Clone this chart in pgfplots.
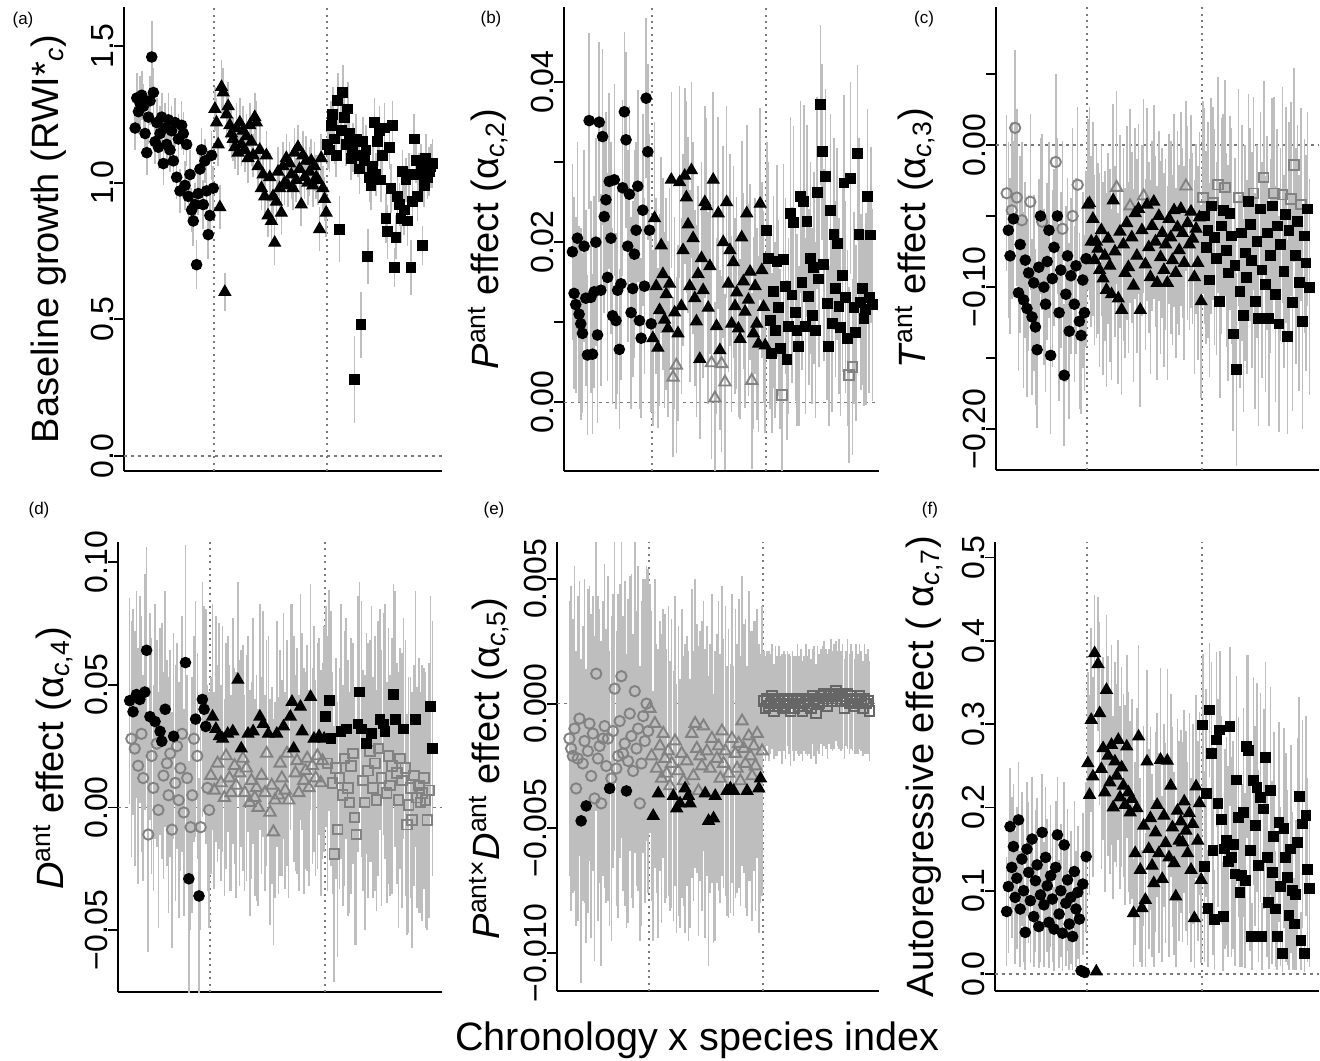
\documentclass[border=0pt]{standalone}
\usepackage{fontspec}
\setmainfont{Liberation Sans}
\usepackage{pgfplots}
\usepackage{pgfplotstable}
\pgfplotsset{compat=1.18}
\definecolor{ebar}{HTML}{BEBEBE}
\definecolor{mgray}{HTML}{828282}
\definecolor{dgray}{HTML}{666666}
\definecolor{refl}{HTML}{7A7A7A}
\newcommand{\ylf}{\fontsize{19}{19}\selectfont}
\newcommand{\plf}{\fontsize{8.5}{9}\selectfont}
\tikzset{hidemk/.style={mark=*, mark size=0pt, opacity=0}}
\pgfplotsset{
 panel/.style={scale only axis, axis lines*=left, axis line style={line width=0.9pt,-},
  xtick=\empty, ytick pos=left, tick align=outside, major tick length=5pt,
  major tick style={line width=0.9pt, black}, scaled y ticks=false,
  yticklabel style={font=\fontsize{16}{16}\selectfont, rotate=90, anchor=south, inner sep=0pt},
  clip=true},
 vref/.style={refl, line width=0.6pt, dash pattern=on 1pt off 2.2pt},
 href/.style={refl, line width=0.6pt, dash pattern=on 1.5pt off 2pt},
 ebars/.style={draw=none, mark=none, error bars/.cd, y dir=both, y explicit, error mark=none,
  error bar style={draw=ebar, solid, line width=0.8pt}},
 clsG/.style={scatter, only marks, scatter src=explicit symbolic, mark options={line width=0.95pt},
  scatter/classes={
   c={hidemk}, t={hidemk}, s={hidemk},
   o={mark=o, draw=mgray, mark size=2.6pt, line width=0.95pt},
   v={mark=triangle, draw=mgray, mark size=3.3pt, line width=0.95pt},
   q={mark=square, draw=mgray, mark size=2.4pt, line width=0.95pt},
   d={mark=square, draw=dgray, mark size=2.4pt, line width=0.95pt}}},
 clsB/.style={scatter, only marks, scatter src=explicit symbolic, mark options={line width=0.6pt},
  scatter/classes={
   c={mark=*, draw=black, fill=black, mark size=2.6pt},
   t={mark=triangle*, draw=black, fill=black, mark size=3.3pt},
   s={mark=square*, draw=black, fill=black, mark size=2.4pt},
   o={hidemk}, v={hidemk}, q={hidemk}, d={hidemk}}}
}
\newcommand{\allmarks}[1]{%
 \addplot[ebars] table[x expr=\coordindex+1, y=y, y error=e]{#1};
 \addplot[clsG] table[x expr=\coordindex+1, y=y, meta=f]{#1};
 \addplot[clsB] table[x expr=\coordindex+1, y=y, meta=f]{#1};
}
% ---------------- data -----------------
\pgfplotstableread[row sep=\\]{
y e f\\
1.20 0.08 c\\ 1.31 0.09 c\\ 1.26 0.08 c\\ 1.29 0.10 c\\ 1.32 0.09 c\\ 1.28 0.08 c\\ 1.18 0.09 c\\ 1.11 0.08 c\\
1.24 0.10 c\\ 1.30 0.09 c\\ 1.46 0.13 c\\ 1.33 0.09 c\\ 1.15 0.08 c\\ 1.22 0.09 c\\ 1.13 0.08 c\\ 1.18 0.10 c\\
1.24 0.09 c\\ 1.07 0.08 c\\ 1.20 0.09 c\\ 1.14 0.08 c\\ 1.23 0.10 c\\ 1.12 0.08 c\\ 1.19 0.09 c\\ 1.08 0.08 c\\
1.22 0.09 c\\ 1.02 0.08 c\\ 1.16 0.09 c\\ 0.97 0.08 c\\ 1.21 0.09 c\\ 1.18 0.08 c\\ 0.99 0.09 c\\ 1.14 0.08 c\\
0.95 0.08 c\\ 1.03 0.09 c\\ 0.90 0.08 c\\ 0.86 0.09 c\\ 0.92 0.08 c\\ 0.70 0.09 c\\ 0.96 0.08 c\\ 1.05 0.09 c\\
1.12 0.08 c\\ 0.92 0.09 c\\ 1.08 0.08 c\\ 0.97 0.09 c\\ 0.81 0.09 c\\ 0.88 0.08 c\\ 1.10 0.09 c\\ 0.98 0.08 c\\
1.27 0.08 t\\ 1.22 0.09 t\\ 1.14 0.08 t\\ 0.91 0.08 t\\ 1.35 0.10 t\\ 1.33 0.09 t\\ 0.60 0.07 t\\ 1.25 0.09 t\\
1.28 0.09 t\\ 1.21 0.08 t\\ 1.18 0.09 t\\ 1.16 0.08 t\\ 1.13 0.08 t\\ 1.20 0.09 t\\ 1.11 0.08 t\\ 1.22 0.09 t\\
1.14 0.08 t\\ 1.19 0.09 t\\ 1.12 0.08 t\\ 1.17 0.08 t\\ 1.09 0.09 t\\ 1.21 0.08 t\\ 1.15 0.09 t\\ 1.10 0.08 t\\
1.24 0.09 t\\ 1.22 0.08 t\\ 1.06 0.08 t\\ 1.12 0.09 t\\ 0.98 0.08 t\\ 1.03 0.09 t\\ 0.95 0.08 t\\ 1.10 0.09 t\\
0.88 0.08 t\\ 1.02 0.09 t\\ 0.86 0.08 t\\ 0.95 0.09 t\\ 0.78 0.08 t\\ 0.93 0.08 t\\ 1.04 0.09 t\\ 0.98 0.08 t\\
0.89 0.08 t\\ 1.06 0.09 t\\ 1.00 0.08 t\\ 1.09 0.09 t\\ 0.99 0.08 t\\ 1.07 0.08 t\\ 1.03 0.09 t\\ 0.98 0.08 t\\
1.11 0.09 t\\ 1.01 0.08 t\\ 1.13 0.08 t\\ 1.05 0.09 t\\ 0.92 0.08 t\\ 1.10 0.09 t\\ 1.02 0.08 t\\ 1.08 0.09 t\\
1.00 0.08 t\\ 1.04 0.09 t\\ 1.08 0.08 t\\ 0.99 0.08 t\\ 1.06 0.09 t\\ 1.02 0.08 t\\ 1.01 0.09 t\\ 0.83 0.08 t\\
1.09 0.09 t\\ 0.98 0.08 t\\ 0.94 0.08 t\\ 0.89 0.09 t\\
1.14 0.09 s\\ 1.12 0.08 s\\ 1.21 0.09 s\\ 1.25 0.10 s\\ 1.16 0.09 s\\ 1.10 0.08 s\\ 1.30 0.10 s\\ 0.83 0.12 s\\
1.19 0.09 s\\ 1.33 0.10 s\\ 1.24 0.09 s\\ 1.14 0.08 s\\ 1.27 0.10 s\\ 1.18 0.09 s\\ 1.09 0.08 s\\ 1.13 0.09 s\\
0.28 0.16 s\\ 1.16 0.09 s\\ 1.10 0.08 s\\ 1.05 0.09 s\\ 0.48 0.12 s\\ 1.15 0.09 s\\ 1.08 0.08 s\\ 1.12 0.09 s\\
0.73 0.10 s\\ 1.02 0.09 s\\ 0.99 0.09 s\\ 1.06 0.08 s\\ 1.22 0.09 s\\ 1.03 0.08 s\\ 1.15 0.09 s\\ 1.19 0.09 s\\
1.01 0.08 s\\ 1.10 0.09 s\\ 1.20 0.09 s\\ 0.87 0.09 s\\ 0.82 0.10 s\\ 1.13 0.08 s\\ 0.98 0.09 s\\ 1.21 0.09 s\\
0.69 0.07 s\\ 0.80 0.08 s\\ 0.95 0.09 s\\ 0.92 0.08 s\\ 0.87 0.09 s\\ 1.04 0.08 s\\ 0.90 0.09 s\\ 1.01 0.08 s\\
0.86 0.09 s\\ 1.03 0.08 s\\ 0.69 0.10 s\\ 0.93 0.09 s\\ 1.16 0.09 s\\ 1.08 0.08 s\\ 0.95 0.09 s\\ 1.03 0.08 s\\
1.05 0.09 s\\ 0.77 0.07 s\\ 0.99 0.08 s\\ 1.09 0.09 s\\ 1.02 0.08 s\\ 1.04 0.09 s\\ 1.06 0.08 s\\ 1.07 0.09 s\\
}\TabA
\pgfplotstableread[row sep=\\]{
y e f\\
0.0188 0.011 c\\ 0.0136 0.012 c\\ 0.0122 0.011 c\\ 0.0205 0.012 c\\ 0.0110 0.011 c\\ 0.0098 0.012 c\\ 0.0086 0.010 c\\ 0.0195 0.012 c\\
0.0130 0.011 c\\ 0.0059 0.010 c\\ 0.0352 0.011 c\\ 0.0131 0.012 c\\ 0.0060 0.010 c\\ 0.0138 0.012 c\\ 0.0200 0.013 c\\ 0.0084 0.011 c\\
0.0350 0.010 c\\ 0.0140 0.012 c\\ 0.0332 0.011 c\\ 0.0232 0.012 c\\ 0.0253 0.011 c\\ 0.0156 0.013 c\\ 0.0276 0.011 c\\ 0.0205 0.012 c\\
0.0108 0.011 c\\ 0.0278 0.012 c\\ 0.0102 0.011 c\\ 0.0140 0.013 c\\ 0.0066 0.010 c\\ 0.0148 0.012 c\\ 0.0268 0.011 c\\ 0.0363 0.010 c\\
0.0328 0.011 c\\ 0.0195 0.012 c\\ 0.0260 0.011 c\\ 0.0112 0.012 c\\ 0.0142 0.011 c\\ 0.0185 0.013 c\\ 0.0215 0.011 c\\ 0.0270 0.012 c\\
0.0102 0.011 c\\ 0.0080 0.010 c\\ 0.0240 0.012 c\\ 0.0145 0.011 c\\ 0.0380 0.010 c\\ 0.0313 0.011 c\\ 0.0215 0.012 c\\ 0.0098 0.011 c\\
0.0080 0.011 t\\ 0.0230 0.012 t\\ 0.0145 0.011 t\\ 0.0068 0.010 t\\ 0.0115 0.012 t\\ 0.0196 0.011 t\\ 0.0160 0.012 t\\ 0.0103 0.011 t\\
0.0135 0.012 t\\ 0.0092 0.011 t\\ 0.0148 0.012 t\\ 0.0278 0.011 t\\ 0.0031 0.010 v\\ 0.0112 0.012 t\\ 0.0046 0.011 v\\ 0.0086 0.011 t\\
0.0275 0.012 t\\ 0.0120 0.011 t\\ 0.0190 0.012 t\\ 0.0283 0.011 t\\ 0.0256 0.012 t\\ 0.0222 0.011 t\\ 0.0145 0.012 t\\ 0.0290 0.011 t\\
0.0205 0.012 t\\ 0.0130 0.011 t\\ 0.0101 0.012 t\\ 0.0160 0.011 t\\ 0.0054 0.010 t\\ 0.0180 0.012 t\\ 0.0140 0.011 t\\ 0.0250 0.012 t\\
0.0245 0.011 t\\ 0.0118 0.012 t\\ 0.0170 0.011 t\\ 0.0049 0.012 v\\ 0.0278 0.011 t\\ 0.0005 0.012 v\\ 0.0095 0.011 t\\ 0.0236 0.012 t\\
0.0065 0.010 t\\ 0.0048 0.011 v\\ 0.0200 0.012 t\\ 0.0025 0.011 v\\ 0.0250 0.012 t\\ 0.0148 0.011 t\\ 0.0190 0.012 t\\ 0.0098 0.011 t\\
0.0175 0.012 t\\ 0.0120 0.011 t\\ 0.0137 0.012 t\\ 0.0092 0.011 t\\ 0.0079 0.010 t\\ 0.0206 0.012 t\\ 0.0151 0.011 t\\ 0.0113 0.012 t\\
0.0236 0.011 t\\ 0.0128 0.012 t\\ 0.0163 0.011 t\\ 0.0027 0.011 v\\ 0.0086 0.012 t\\ 0.0145 0.011 t\\ 0.0098 0.012 t\\ 0.0073 0.011 t\\
0.0248 0.012 t\\ 0.0165 0.011 t\\ 0.0119 0.012 t\\ 0.0071 0.011 t\\
0.0215 0.011 s\\ 0.0180 0.012 s\\ 0.0102 0.011 s\\ 0.0061 0.010 s\\ 0.0138 0.012 s\\ 0.0090 0.011 s\\ 0.0176 0.012 s\\ 0.0118 0.011 s\\
0.0067 0.010 s\\ 0.0009 0.011 q\\ 0.0178 0.012 s\\ 0.0145 0.011 s\\ 0.0053 0.010 s\\ 0.0095 0.011 s\\ 0.0236 0.012 s\\ 0.0134 0.011 s\\
0.0225 0.012 s\\ 0.0112 0.011 s\\ 0.0090 0.012 s\\ 0.0070 0.010 s\\ 0.0257 0.012 s\\ 0.0150 0.011 s\\ 0.0251 0.012 s\\ 0.0095 0.011 s\\
0.0226 0.012 s\\ 0.0132 0.011 s\\ 0.0180 0.012 s\\ 0.0108 0.011 s\\ 0.0168 0.012 s\\ 0.0090 0.011 s\\ 0.0262 0.012 s\\ 0.0154 0.011 s\\
0.0372 0.010 s\\ 0.0313 0.011 s\\ 0.0172 0.012 s\\ 0.0282 0.011 s\\ 0.0123 0.012 s\\ 0.0070 0.010 s\\ 0.0240 0.012 s\\ 0.0098 0.011 s\\
0.0210 0.012 s\\ 0.0142 0.011 s\\ 0.0198 0.012 s\\ 0.0120 0.011 s\\ 0.0093 0.011 s\\ 0.0158 0.012 s\\ 0.0274 0.011 s\\ 0.0131 0.012 s\\
0.0080 0.011 s\\ 0.0034 0.011 q\\ 0.0280 0.012 s\\ 0.0044 0.011 q\\ 0.0118 0.012 s\\ 0.0087 0.011 s\\ 0.0311 0.011 s\\ 0.0210 0.012 s\\
0.0125 0.011 s\\ 0.0142 0.012 s\\ 0.0105 0.011 s\\ 0.0116 0.012 s\\ 0.0257 0.011 s\\ 0.0131 0.012 s\\ 0.0209 0.011 s\\ 0.0122 0.012 s\\
}\TabB
\pgfplotstableread[row sep=\\]{
y e f\\
-0.034 0.055 o\\ -0.060 0.062 c\\ -0.078 0.055 c\\ -0.046 0.062 o\\ -0.052 0.055 c\\ 0.012 0.055 o\\ -0.037 0.062 o\\ -0.104 0.055 c\\
-0.070 0.062 c\\ -0.053 0.055 o\\ -0.109 0.062 c\\ -0.081 0.055 c\\ -0.115 0.062 c\\ -0.090 0.055 c\\ -0.040 0.062 o\\ -0.121 0.055 c\\
-0.097 0.062 c\\ -0.128 0.055 c\\ -0.144 0.055 c\\ -0.086 0.062 c\\ -0.050 0.055 c\\ -0.054 0.062 o\\ -0.100 0.055 c\\ -0.112 0.062 c\\
-0.082 0.055 c\\ -0.060 0.062 c\\ -0.148 0.055 c\\ -0.094 0.062 c\\ -0.072 0.055 c\\ -0.012 0.062 o\\ -0.050 0.055 c\\ -0.118 0.062 c\\
-0.088 0.055 c\\ -0.059 0.062 o\\ -0.162 0.050 c\\ -0.105 0.062 c\\ -0.078 0.055 c\\ -0.131 0.062 c\\ -0.092 0.055 c\\ -0.050 0.062 o\\
-0.112 0.055 c\\ -0.085 0.062 c\\ -0.028 0.055 o\\ -0.124 0.062 c\\ -0.134 0.055 c\\ -0.095 0.062 c\\ -0.118 0.055 c\\ -0.080 0.062 c\\
-0.042 0.060 t\\ -0.041 0.068 t\\ -0.068 0.060 t\\ -0.052 0.068 t\\ -0.081 0.060 t\\ -0.068 0.068 t\\ -0.073 0.060 t\\ -0.088 0.068 t\\
-0.060 0.060 t\\ -0.094 0.068 t\\ -0.078 0.060 t\\ -0.102 0.068 t\\ -0.066 0.060 t\\ -0.085 0.068 t\\ -0.105 0.060 t\\ -0.039 0.068 t\\
-0.075 0.060 t\\ -0.030 0.068 v\\ -0.108 0.060 t\\ -0.061 0.068 t\\ -0.116 0.060 t\\ -0.070 0.068 t\\ -0.090 0.060 t\\ -0.055 0.068 t\\
-0.086 0.060 t\\ -0.043 0.068 v\\ -0.065 0.060 t\\ -0.099 0.068 t\\ -0.048 0.060 t\\ -0.078 0.068 t\\ -0.045 0.060 t\\ -0.116 0.068 t\\
-0.060 0.060 t\\ -0.036 0.068 v\\ -0.084 0.060 t\\ -0.042 0.068 t\\ -0.072 0.060 t\\ -0.093 0.068 t\\ -0.057 0.060 t\\ -0.040 0.068 t\\
-0.068 0.060 t\\ -0.097 0.068 t\\ -0.050 0.060 t\\ -0.079 0.068 t\\ -0.062 0.060 t\\ -0.088 0.068 t\\ -0.070 0.060 t\\ -0.097 0.068 t\\
-0.052 0.060 t\\ -0.065 0.068 t\\ -0.081 0.060 t\\ -0.046 0.068 t\\ -0.090 0.060 t\\ -0.058 0.068 t\\ -0.074 0.060 t\\ -0.045 0.068 t\\
-0.062 0.060 t\\ -0.083 0.068 t\\ -0.029 0.060 v\\ -0.055 0.068 t\\ -0.070 0.060 t\\ -0.047 0.068 t\\ -0.066 0.060 t\\ -0.093 0.068 t\\
-0.059 0.060 t\\ -0.083 0.068 t\\ -0.051 0.060 t\\ -0.110 0.068 t\\
-0.037 0.068 q\\ -0.050 0.076 s\\ -0.072 0.068 s\\ -0.060 0.076 s\\ -0.095 0.068 s\\ -0.043 0.076 s\\ -0.041 0.068 q\\ -0.065 0.076 s\\
-0.080 0.068 s\\ -0.028 0.076 q\\ -0.110 0.068 s\\ -0.057 0.076 s\\ -0.046 0.068 s\\ -0.030 0.076 q\\ -0.074 0.068 s\\ -0.090 0.076 s\\
-0.048 0.068 s\\ -0.064 0.076 s\\ -0.133 0.068 s\\ -0.085 0.076 s\\ -0.158 0.068 s\\ -0.037 0.076 q\\ -0.103 0.068 s\\ -0.062 0.076 s\\
-0.120 0.068 s\\ -0.076 0.076 s\\ -0.093 0.068 s\\ -0.040 0.076 s\\ -0.056 0.068 s\\ -0.081 0.076 s\\ -0.034 0.068 q\\ -0.110 0.076 s\\
-0.068 0.068 s\\ -0.122 0.076 s\\ -0.045 0.068 s\\ -0.088 0.076 s\\ -0.023 0.068 q\\ -0.098 0.076 s\\ -0.062 0.068 s\\ -0.122 0.076 s\\
-0.078 0.068 s\\ -0.043 0.076 s\\ -0.034 0.068 q\\ -0.105 0.076 s\\ -0.057 0.068 s\\ -0.126 0.076 s\\ -0.070 0.068 s\\ -0.035 0.076 q\\
-0.089 0.068 s\\ -0.049 0.076 s\\ -0.135 0.068 s\\ -0.060 0.076 s\\ -0.038 0.068 q\\ -0.111 0.076 s\\ -0.014 0.068 q\\ -0.078 0.076 s\\
-0.054 0.068 s\\ -0.097 0.076 s\\ -0.042 0.068 q\\ -0.124 0.076 s\\ -0.064 0.068 s\\ -0.083 0.076 s\\ -0.045 0.068 s\\ -0.100 0.076 s\\
}\TabC
\pgfplotstableread[row sep=\\]{
y e f\\
0.0435 0.042 c\\ 0.028 0.048 o\\ 0.039 0.042 c\\ 0.024 0.048 o\\ 0.046 0.042 c\\ 0.017 0.048 o\\ 0.044 0.042 c\\ 0.030 0.048 o\\
0.012 0.042 o\\ 0.047 0.048 c\\ 0.064 0.042 c\\ -0.011 0.048 o\\ 0.037 0.042 c\\ 0.021 0.048 o\\ 0.008 0.042 o\\ 0.035 0.048 c\\
0.026 0.042 o\\ -0.001 0.048 o\\ 0.031 0.042 c\\ 0.027 0.048 c\\ 0.013 0.042 o\\ 0.040 0.048 c\\ 0.018 0.042 o\\ 0.005 0.048 o\\
0.022 0.042 o\\ -0.009 0.048 o\\ 0.029 0.042 c\\ 0.010 0.048 o\\ 0.025 0.042 o\\ 0.003 0.048 o\\ 0.016 0.042 o\\ 0.030 0.048 o\\
-0.002 0.042 o\\ 0.059 0.048 c\\ 0.012 0.042 o\\ -0.029 0.048 c\\ -0.008 0.042 o\\ 0.005 0.048 o\\ 0.028 0.042 o\\ 0.036 0.048 c\\
0.021 0.042 o\\ -0.036 0.048 c\\ -0.008 0.042 o\\ 0.044 0.048 c\\ 0.040 0.042 c\\ 0.033 0.048 c\\ 0.008 0.042 o\\ -0.001 0.048 o\\
0.013 0.040 v\\ 0.037 0.046 t\\ 0.007 0.040 v\\ 0.032 0.046 t\\ 0.018 0.040 v\\ 0.029 0.046 t\\ 0.010 0.040 v\\ 0.028 0.046 t\\
0.004 0.040 v\\ 0.021 0.046 v\\ 0.030 0.040 t\\ 0.012 0.046 v\\ 0.006 0.040 v\\ 0.031 0.046 t\\ 0.017 0.040 v\\ 0.009 0.046 v\\
0.052 0.040 t\\ 0.014 0.046 v\\ 0.024 0.040 t\\ 0.020 0.046 v\\ 0.006 0.040 v\\ 0.016 0.046 v\\ 0.030 0.040 t\\ 0.002 0.046 v\\
0.011 0.040 v\\ 0.031 0.046 t\\ 0.004 0.040 v\\ 0.008 0.046 v\\ 0.000 0.040 v\\ 0.037 0.046 t\\ 0.013 0.040 v\\ 0.034 0.046 t\\
0.006 0.040 v\\ 0.022 0.046 v\\ 0.030 0.040 t\\ -0.002 0.046 v\\ 0.009 0.040 v\\ -0.010 0.046 v\\ 0.003 0.040 v\\ 0.030 0.046 t\\
0.005 0.040 v\\ 0.018 0.046 v\\ 0.012 0.040 v\\ 0.033 0.046 t\\ 0.007 0.040 v\\ 0.022 0.046 v\\ 0.003 0.040 v\\ 0.037 0.046 t\\
0.043 0.040 t\\ 0.024 0.046 t\\ 0.014 0.040 v\\ 0.019 0.046 v\\ 0.006 0.040 v\\ 0.041 0.046 t\\ 0.031 0.040 t\\ 0.011 0.046 v\\
0.015 0.040 v\\ 0.020 0.046 v\\ 0.008 0.040 v\\ 0.045 0.046 t\\ 0.017 0.040 v\\ 0.028 0.046 t\\ 0.012 0.040 v\\ 0.021 0.046 v\\
0.029 0.040 t\\ 0.010 0.046 v\\ 0.019 0.040 v\\ 0.028 0.046 t\\
0.037 0.045 s\\ 0.018 0.052 q\\ 0.0435 0.045 s\\ 0.028 0.052 s\\ 0.010 0.045 q\\ -0.019 0.052 q\\ 0.016 0.045 q\\ -0.009 0.052 q\\
0.012 0.045 q\\ 0.031 0.052 s\\ 0.005 0.045 q\\ 0.020 0.052 q\\ 0.032 0.045 s\\ 0.008 0.052 q\\ 0.002 0.045 q\\ 0.017 0.052 q\\
0.022 0.045 q\\ -0.004 0.052 q\\ -0.011 0.045 q\\ 0.034 0.052 s\\ 0.047 0.045 s\\ 0.032 0.052 s\\ 0.011 0.045 q\\ 0.002 0.052 q\\
0.026 0.045 s\\ 0.015 0.052 q\\ 0.023 0.045 q\\ 0.030 0.052 s\\ 0.008 0.045 q\\ 0.018 0.052 q\\ 0.003 0.045 q\\ 0.024 0.052 q\\
0.036 0.045 s\\ 0.012 0.052 q\\ 0.034 0.045 s\\ 0.031 0.052 s\\ 0.006 0.045 q\\ 0.021 0.052 q\\ 0.009 0.045 q\\ 0.017 0.052 q\\
0.046 0.045 s\\ 0.036 0.052 s\\ 0.014 0.045 q\\ 0.003 0.052 q\\ 0.020 0.045 q\\ 0.011 0.052 q\\ 0.032 0.045 s\\ 0.016 0.052 q\\
-0.007 0.045 q\\ 0.001 0.052 q\\ 0.008 0.045 q\\ -0.005 0.052 q\\ 0.013 0.045 q\\ 0.036 0.052 s\\ 0.004 0.045 q\\ 0.009 0.052 q\\
0.002 0.045 q\\ 0.006 0.052 q\\ 0.012 0.045 q\\ 0.003 0.052 q\\ -0.005 0.045 q\\ 0.007 0.052 q\\ 0.041 0.045 s\\ 0.024 0.052 s\\
}\TabD
\pgfplotstableread[row sep=\\]{
y e f\\
-0.0014 0.0055 o\\ -0.0018 0.0065 o\\ -0.0021 0.0055 o\\ -0.0010 0.0065 o\\ -0.0034 0.0055 o\\ -0.0022 0.0065 o\\ -0.0006 0.0055 o\\ -0.0047 0.0065 c\\
-0.0024 0.0055 o\\ -0.0015 0.0065 o\\ -0.0041 0.0055 c\\ -0.0019 0.0065 o\\ -0.0008 0.0055 o\\ -0.0029 0.0065 o\\ -0.0012 0.0055 o\\ -0.0038 0.0065 o\\
0.0012 0.0055 o\\ -0.0022 0.0065 o\\ -0.0017 0.0055 o\\ -0.0040 0.0065 o\\ -0.0014 0.0055 o\\ -0.0009 0.0065 o\\ -0.0025 0.0055 o\\ -0.0014 0.0065 o\\
-0.0034 0.0055 c\\ -0.0030 0.0065 o\\ -0.0011 0.0055 o\\ 0.0006 0.0065 o\\ -0.0026 0.0055 o\\ -0.0021 0.0065 o\\ -0.0007 0.0055 o\\ 0.0011 0.0065 o\\
-0.0020 0.0055 o\\ -0.0016 0.0065 o\\ -0.0035 0.0055 c\\ -0.0023 0.0065 o\\ -0.0004 0.0055 o\\ -0.0013 0.0065 o\\ -0.0027 0.0055 o\\ 0.0005 0.0065 o\\
-0.0018 0.0055 o\\ -0.0010 0.0065 o\\ -0.0040 0.0055 o\\ -0.0024 0.0065 o\\ -0.0005 0.0055 o\\ -0.0015 0.0065 o\\ 0.0000 0.0055 o\\ -0.0011 0.0065 o\\
-0.0002 0.0050 v\\ -0.0021 0.0058 v\\ -0.0045 0.0050 t\\ -0.0008 0.0058 v\\ -0.0026 0.0050 v\\ -0.0036 0.0058 t\\ -0.0017 0.0050 v\\ -0.0030 0.0058 v\\
-0.0012 0.0050 v\\ -0.0022 0.0058 v\\ -0.0028 0.0050 v\\ -0.0019 0.0058 v\\ -0.0033 0.0050 v\\ -0.0024 0.0058 v\\ -0.0037 0.0050 t\\ -0.0015 0.0058 v\\
-0.0042 0.0050 t\\ -0.0027 0.0058 v\\ -0.0040 0.0050 t\\ -0.0020 0.0058 v\\ -0.0031 0.0050 v\\ -0.0034 0.0058 t\\ -0.0023 0.0050 v\\ -0.0037 0.0058 t\\
-0.0040 0.0050 t\\ -0.0012 0.0058 v\\ -0.0029 0.0050 v\\ -0.0008 0.0058 v\\ -0.0018 0.0050 v\\ -0.0035 0.0058 v\\ -0.0021 0.0050 v\\ -0.0025 0.0058 v\\
-0.0009 0.0050 v\\ -0.0036 0.0058 t\\ -0.0019 0.0050 v\\ -0.0047 0.0058 t\\ -0.0026 0.0050 v\\ -0.0014 0.0058 v\\ -0.0046 0.0050 t\\ -0.0037 0.0058 t\\
-0.0022 0.0050 v\\ -0.0017 0.0058 v\\ -0.0030 0.0050 v\\ -0.0011 0.0058 v\\ -0.0024 0.0050 v\\ -0.0019 0.0058 v\\ -0.0035 0.0050 t\\ -0.0028 0.0058 v\\
-0.0034 0.0050 t\\ -0.0014 0.0058 v\\ -0.0035 0.0050 t\\ -0.0020 0.0058 v\\ -0.0026 0.0050 v\\ -0.0016 0.0058 v\\ -0.0031 0.0050 v\\ -0.0007 0.0058 v\\
-0.0018 0.0050 v\\ -0.0024 0.0058 v\\ -0.0035 0.0050 t\\ -0.0013 0.0058 v\\ -0.0021 0.0050 v\\ -0.0029 0.0058 v\\ -0.0017 0.0050 v\\ -0.0025 0.0058 v\\
-0.0012 0.0050 v\\ -0.0034 0.0058 t\\ -0.0030 0.0050 t\\ -0.0019 0.0058 v\\
0.0001 0.0020 d\\ -0.0002 0.0021 d\\ 0.0002 0.0019 d\\ -0.0001 0.0022 d\\ 0.0000 0.0020 d\\ 0.0003 0.0021 d\\ -0.0003 0.0019 d\\ 0.0001 0.0022 d\\
-0.0001 0.0020 d\\ 0.0002 0.0021 d\\ 0.0000 0.0019 d\\ -0.0002 0.0022 d\\ 0.0001 0.0020 d\\ -0.0001 0.0021 d\\ 0.0002 0.0019 d\\ 0.0000 0.0020 d\\
-0.0003 0.0022 d\\ 0.0001 0.0020 d\\ -0.0002 0.0021 d\\ 0.0000 0.0019 d\\ 0.0002 0.0022 d\\ -0.0001 0.0020 d\\ 0.0001 0.0021 d\\ -0.0003 0.0020 d\\
0.0000 0.0019 d\\ 0.0002 0.0022 d\\ -0.0001 0.0020 d\\ 0.0001 0.0021 d\\ -0.0002 0.0020 d\\ 0.0003 0.0019 d\\ 0.0001 0.0022 d\\ -0.0004 0.0020 d\\
0.0002 0.0021 d\\ 0.0000 0.0020 d\\ 0.0003 0.0019 d\\ 0.0001 0.0022 d\\ 0.0004 0.0021 d\\ 0.0002 0.0020 d\\ -0.0001 0.0021 d\\ 0.0003 0.0019 d\\
0.0004 0.0022 d\\ 0.0001 0.0020 d\\ 0.0003 0.0021 d\\ 0.0005 0.0020 d\\ 0.0002 0.0019 d\\ 0.0004 0.0022 d\\ 0.0001 0.0020 d\\ 0.0003 0.0021 d\\
-0.0002 0.0020 d\\ 0.0002 0.0019 d\\ 0.0004 0.0022 d\\ 0.0000 0.0020 d\\ 0.0003 0.0021 d\\ 0.0001 0.0020 d\\ -0.0001 0.0019 d\\ 0.0002 0.0022 d\\
0.0000 0.0020 d\\ 0.0003 0.0021 d\\ 0.0001 0.0020 d\\ -0.0002 0.0019 d\\ 0.0002 0.0022 d\\ 0.0000 0.0020 d\\ 0.0001 0.0021 d\\ -0.0003 0.0020 d\\
}\TabE
\pgfplotstableread[row sep=\\]{
y e f\\
0.075 0.065 c\\ 0.105 0.080 c\\ 0.177 0.070 c\\ 0.128 0.085 c\\ 0.153 0.075 c\\ 0.092 0.080 c\\ 0.115 0.085 c\\ 0.185 0.070 c\\
0.078 0.070 c\\ 0.138 0.080 c\\ 0.100 0.085 c\\ 0.050 0.045 c\\ 0.150 0.080 c\\ 0.122 0.085 c\\ 0.088 0.075 c\\ 0.162 0.075 c\\
0.069 0.060 c\\ 0.112 0.085 c\\ 0.131 0.080 c\\ 0.057 0.050 c\\ 0.095 0.080 c\\ 0.170 0.070 c\\ 0.083 0.075 c\\ 0.140 0.085 c\\
0.106 0.080 c\\ 0.062 0.055 c\\ 0.118 0.085 c\\ 0.090 0.075 c\\ 0.054 0.050 c\\ 0.128 0.080 c\\ 0.167 0.070 c\\ 0.072 0.065 c\\
0.100 0.080 c\\ 0.049 0.045 c\\ 0.155 0.075 c\\ 0.085 0.075 c\\ 0.113 0.085 c\\ 0.060 0.055 c\\ 0.092 0.080 c\\ 0.045 0.040 c\\
0.123 0.085 c\\ 0.078 0.070 c\\ 0.098 0.080 c\\ 0.066 0.060 c\\ 0.004 0.003 c\\ 0.108 0.085 c\\ 0.002 0.002 c\\ 0.141 0.090 c\\
0.253 0.110 t\\ 0.215 0.120 t\\ 0.305 0.110 t\\ 0.237 0.120 t\\ 0.385 0.070 t\\ 0.003 0.002 t\\ 0.372 0.080 t\\ 0.313 0.110 t\\
0.246 0.120 t\\ 0.271 0.110 t\\ 0.218 0.120 t\\ 0.341 0.090 t\\ 0.262 0.120 t\\ 0.230 0.110 t\\ 0.275 0.120 t\\ 0.200 0.110 t\\
0.255 0.120 t\\ 0.238 0.110 t\\ 0.281 0.120 t\\ 0.212 0.110 t\\ 0.248 0.120 t\\ 0.226 0.110 t\\ 0.203 0.120 t\\ 0.273 0.110 t\\
0.218 0.120 t\\ 0.194 0.110 t\\ 0.210 0.120 t\\ 0.073 0.065 t\\ 0.145 0.110 t\\ 0.199 0.120 t\\ 0.285 0.110 t\\ 0.125 0.110 t\\
0.079 0.070 t\\ 0.178 0.120 t\\ 0.089 0.080 t\\ 0.255 0.110 t\\ 0.150 0.120 t\\ 0.187 0.110 t\\ 0.130 0.110 t\\ 0.109 0.100 t\\
0.170 0.120 t\\ 0.203 0.110 t\\ 0.145 0.120 t\\ 0.257 0.110 t\\ 0.114 0.100 t\\ 0.190 0.110 t\\ 0.157 0.120 t\\ 0.256 0.110 t\\
0.140 0.120 t\\ 0.226 0.110 t\\ 0.176 0.120 t\\ 0.133 0.110 t\\ 0.093 0.085 t\\ 0.196 0.110 t\\ 0.160 0.120 t\\ 0.183 0.110 t\\
0.158 0.120 t\\ 0.207 0.110 t\\ 0.172 0.120 t\\ 0.145 0.110 t\\ 0.193 0.120 t\\ 0.125 0.110 t\\ 0.180 0.120 t\\ 0.067 0.060 t\\
0.225 0.110 t\\ 0.160 0.120 t\\ 0.205 0.110 t\\ 0.113 0.100 t\\
0.299 0.085 s\\ 0.129 0.115 s\\ 0.217 0.125 s\\ 0.079 0.070 s\\ 0.317 0.080 s\\ 0.265 0.110 s\\ 0.148 0.125 s\\ 0.065 0.060 s\\
0.281 0.105 s\\ 0.205 0.125 s\\ 0.293 0.095 s\\ 0.185 0.125 s\\ 0.069 0.065 s\\ 0.150 0.120 s\\ 0.160 0.125 s\\ 0.135 0.115 s\\
0.297 0.095 s\\ 0.140 0.120 s\\ 0.155 0.125 s\\ 0.120 0.110 s\\ 0.233 0.125 s\\ 0.188 0.120 s\\ 0.098 0.090 s\\ 0.118 0.110 s\\
0.194 0.125 s\\ 0.112 0.105 s\\ 0.273 0.110 s\\ 0.268 0.115 s\\ 0.148 0.120 s\\ 0.045 0.040 s\\ 0.232 0.125 s\\ 0.178 0.120 s\\
0.224 0.125 s\\ 0.130 0.115 s\\ 0.212 0.125 s\\ 0.045 0.040 s\\ 0.198 0.120 s\\ 0.260 0.115 s\\ 0.140 0.120 s\\ 0.086 0.080 s\\
0.220 0.125 s\\ 0.122 0.110 s\\ 0.165 0.125 s\\ 0.078 0.070 s\\ 0.045 0.040 s\\ 0.182 0.120 s\\ 0.105 0.095 s\\ 0.025 0.022 s\\
0.175 0.120 s\\ 0.140 0.125 s\\ 0.116 0.105 s\\ 0.070 0.065 s\\ 0.150 0.125 s\\ 0.100 0.095 s\\ 0.060 0.055 s\\ 0.095 0.090 s\\
0.158 0.125 s\\ 0.213 0.120 s\\ 0.040 0.035 s\\ 0.180 0.125 s\\ 0.025 0.022 s\\ 0.190 0.120 s\\ 0.125 0.110 s\\ 0.103 0.095 s\\
}\TabF
\begin{document}
\begin{tikzpicture}
\useasboundingbox (0,0) rectangle (660pt,530pt);
% (a)
\begin{axis}[panel, at={(62pt,294.5pt)}, width=159pt, height=232pt,
  xmin=-5.7, xmax=185.7, ymin=-0.055, ymax=1.643,
  ytick={0,0.5,1,1.5}, yticklabels={0.0,0.5,1.0,1.5}]
\addplot[vref] coordinates {(48.5,-0.055) (48.5,1.643)};
\addplot[vref] coordinates {(116.5,-0.055) (116.5,1.643)};
\addplot[href] coordinates {(-5.7,0) (185.7,0)};
\allmarks{\TabA}
\end{axis}
% (b)
\begin{axis}[panel, at={(282pt,294.5pt)}, width=157.5pt, height=232pt,
  xmin=-4.0, xmax=183.9, ymin=-0.0086, ymax=0.0494,
  ytick={0,0.01,0.02,0.03,0.04}, yticklabels={0.00,{},0.02,{},0.04}]
\addplot[vref] coordinates {(48.5,-0.0086) (48.5,0.0494)};
\addplot[vref] coordinates {(116.5,-0.0086) (116.5,0.0494)};
\addplot[href] coordinates {(-4.0,0) (183.9,0)};
\allmarks{\TabB}
\end{axis}
% (c)
\begin{axis}[panel, at={(498pt,295pt)}, width=161.5pt, height=231.5pt,
  xmin=-5.3, xmax=185.7, ymin=-0.2286, ymax=0.097,
  ytick={-0.2,-0.15,-0.1,-0.05,0,0.05}, yticklabels={−0.20,{},−0.10,{},0.00,{}}]
\addplot[vref] coordinates {(48.5,-0.2286) (48.5,0.097)};
\addplot[vref] coordinates {(116.5,-0.2286) (116.5,0.097)};
\addplot[href] coordinates {(-5.3,0) (185.7,0)};
\allmarks{\TabC}
\end{axis}
% (d)
\begin{axis}[panel, at={(59pt,34pt)}, width=162pt, height=225pt,
  xmin=-5.9, xmax=185.7, ymin=-0.0751, ymax=0.1081,
  ytick={-0.05,0,0.05,0.1}, yticklabels={−0.05,0.00,0.05,0.10}]
\addplot[vref] coordinates {(48.5,-0.0751) (48.5,0.1081)};
\addplot[vref] coordinates {(116.5,-0.0751) (116.5,0.1081)};
\addplot[href] coordinates {(-5.9,0) (185.7,0)};
\allmarks{\TabD}
\end{axis}
% (e)
\begin{axis}[panel, at={(278.5pt,34.5pt)}, width=161pt, height=224.5pt,
  xmin=-6.4, xmax=185.7, ymin=-0.01152, ymax=0.00648,
  ytick={-0.01,-0.005,0,0.005}, yticklabels={−0.010,−0.005,0.000,0.005}]
\addplot[vref] coordinates {(48.5,-0.01152) (48.5,0.00648)};
\addplot[vref] coordinates {(116.5,-0.01152) (116.5,0.00648)};
\addplot[href] coordinates {(-6.4,0) (185.7,0)};
\allmarks{\TabE}
\end{axis}
% (f)
\begin{axis}[panel, at={(497.5pt,34.5pt)}, width=162pt, height=224.5pt,
  xmin=-5.9, xmax=185.7, ymin=-0.0204, ymax=0.5186,
  ytick={0,0.1,0.2,0.3,0.4,0.5}, yticklabels={0.0,0.1,0.2,0.3,0.4,0.5}]
\addplot[vref] coordinates {(48.5,-0.0204) (48.5,0.5186)};
\addplot[vref] coordinates {(116.5,-0.0204) (116.5,0.5186)};
\addplot[href] coordinates {(-5.9,0) (185.7,0)};
\allmarks{\TabF}
\end{axis}
% y labels
\node[rotate=90, anchor=base, font=\ylf] at (29pt,410.5pt) {Baseline growth (RWI*\textsubscript{\textit{c}})};
\node[rotate=90, anchor=base, font=\ylf] at (249pt,410.5pt) {\textit{P}\textsuperscript{ant} effect (α\textsubscript{\textit{c},2})};
\node[rotate=90, anchor=base, font=\ylf] at (462.5pt,410.75pt) {\textit{T}\textsuperscript{ant} effect (α\textsubscript{\textit{c},3})};
\node[rotate=90, anchor=base, font=\ylf] at (31.5pt,150.75pt) {\textit{D}\textsuperscript{ant} effect (α\textsubscript{\textit{c},4})};
\node[rotate=90, anchor=base, font=\ylf] at (249.5pt,145.75pt) {\textit{P}\textsuperscript{ant×}\textit{D}\textsuperscript{ant} effect (α\textsubscript{\textit{c},5})};
\node[rotate=90, anchor=base, font=\ylf] at (466.5pt,146.75pt) {Autoregressive effect ( α\textsubscript{\textit{c},7})};
% panel letters
\node[font=\plf] at (11.5pt,520pt) {(a)};
\node[font=\plf] at (245.5pt,520.5pt) {(b)};
\node[font=\plf] at (462pt,520.5pt) {(c)};
\node[font=\plf] at (19.5pt,275pt) {(d)};
\node[font=\plf] at (247pt,275pt) {(e)};
\node[font=\plf] at (465pt,275pt) {(f)};
% x label
\node[anchor=base, font=\fontsize{19.8}{20}\selectfont] at (348.75pt,5pt) {Chronology x species index};
\end{tikzpicture}
\end{document}
